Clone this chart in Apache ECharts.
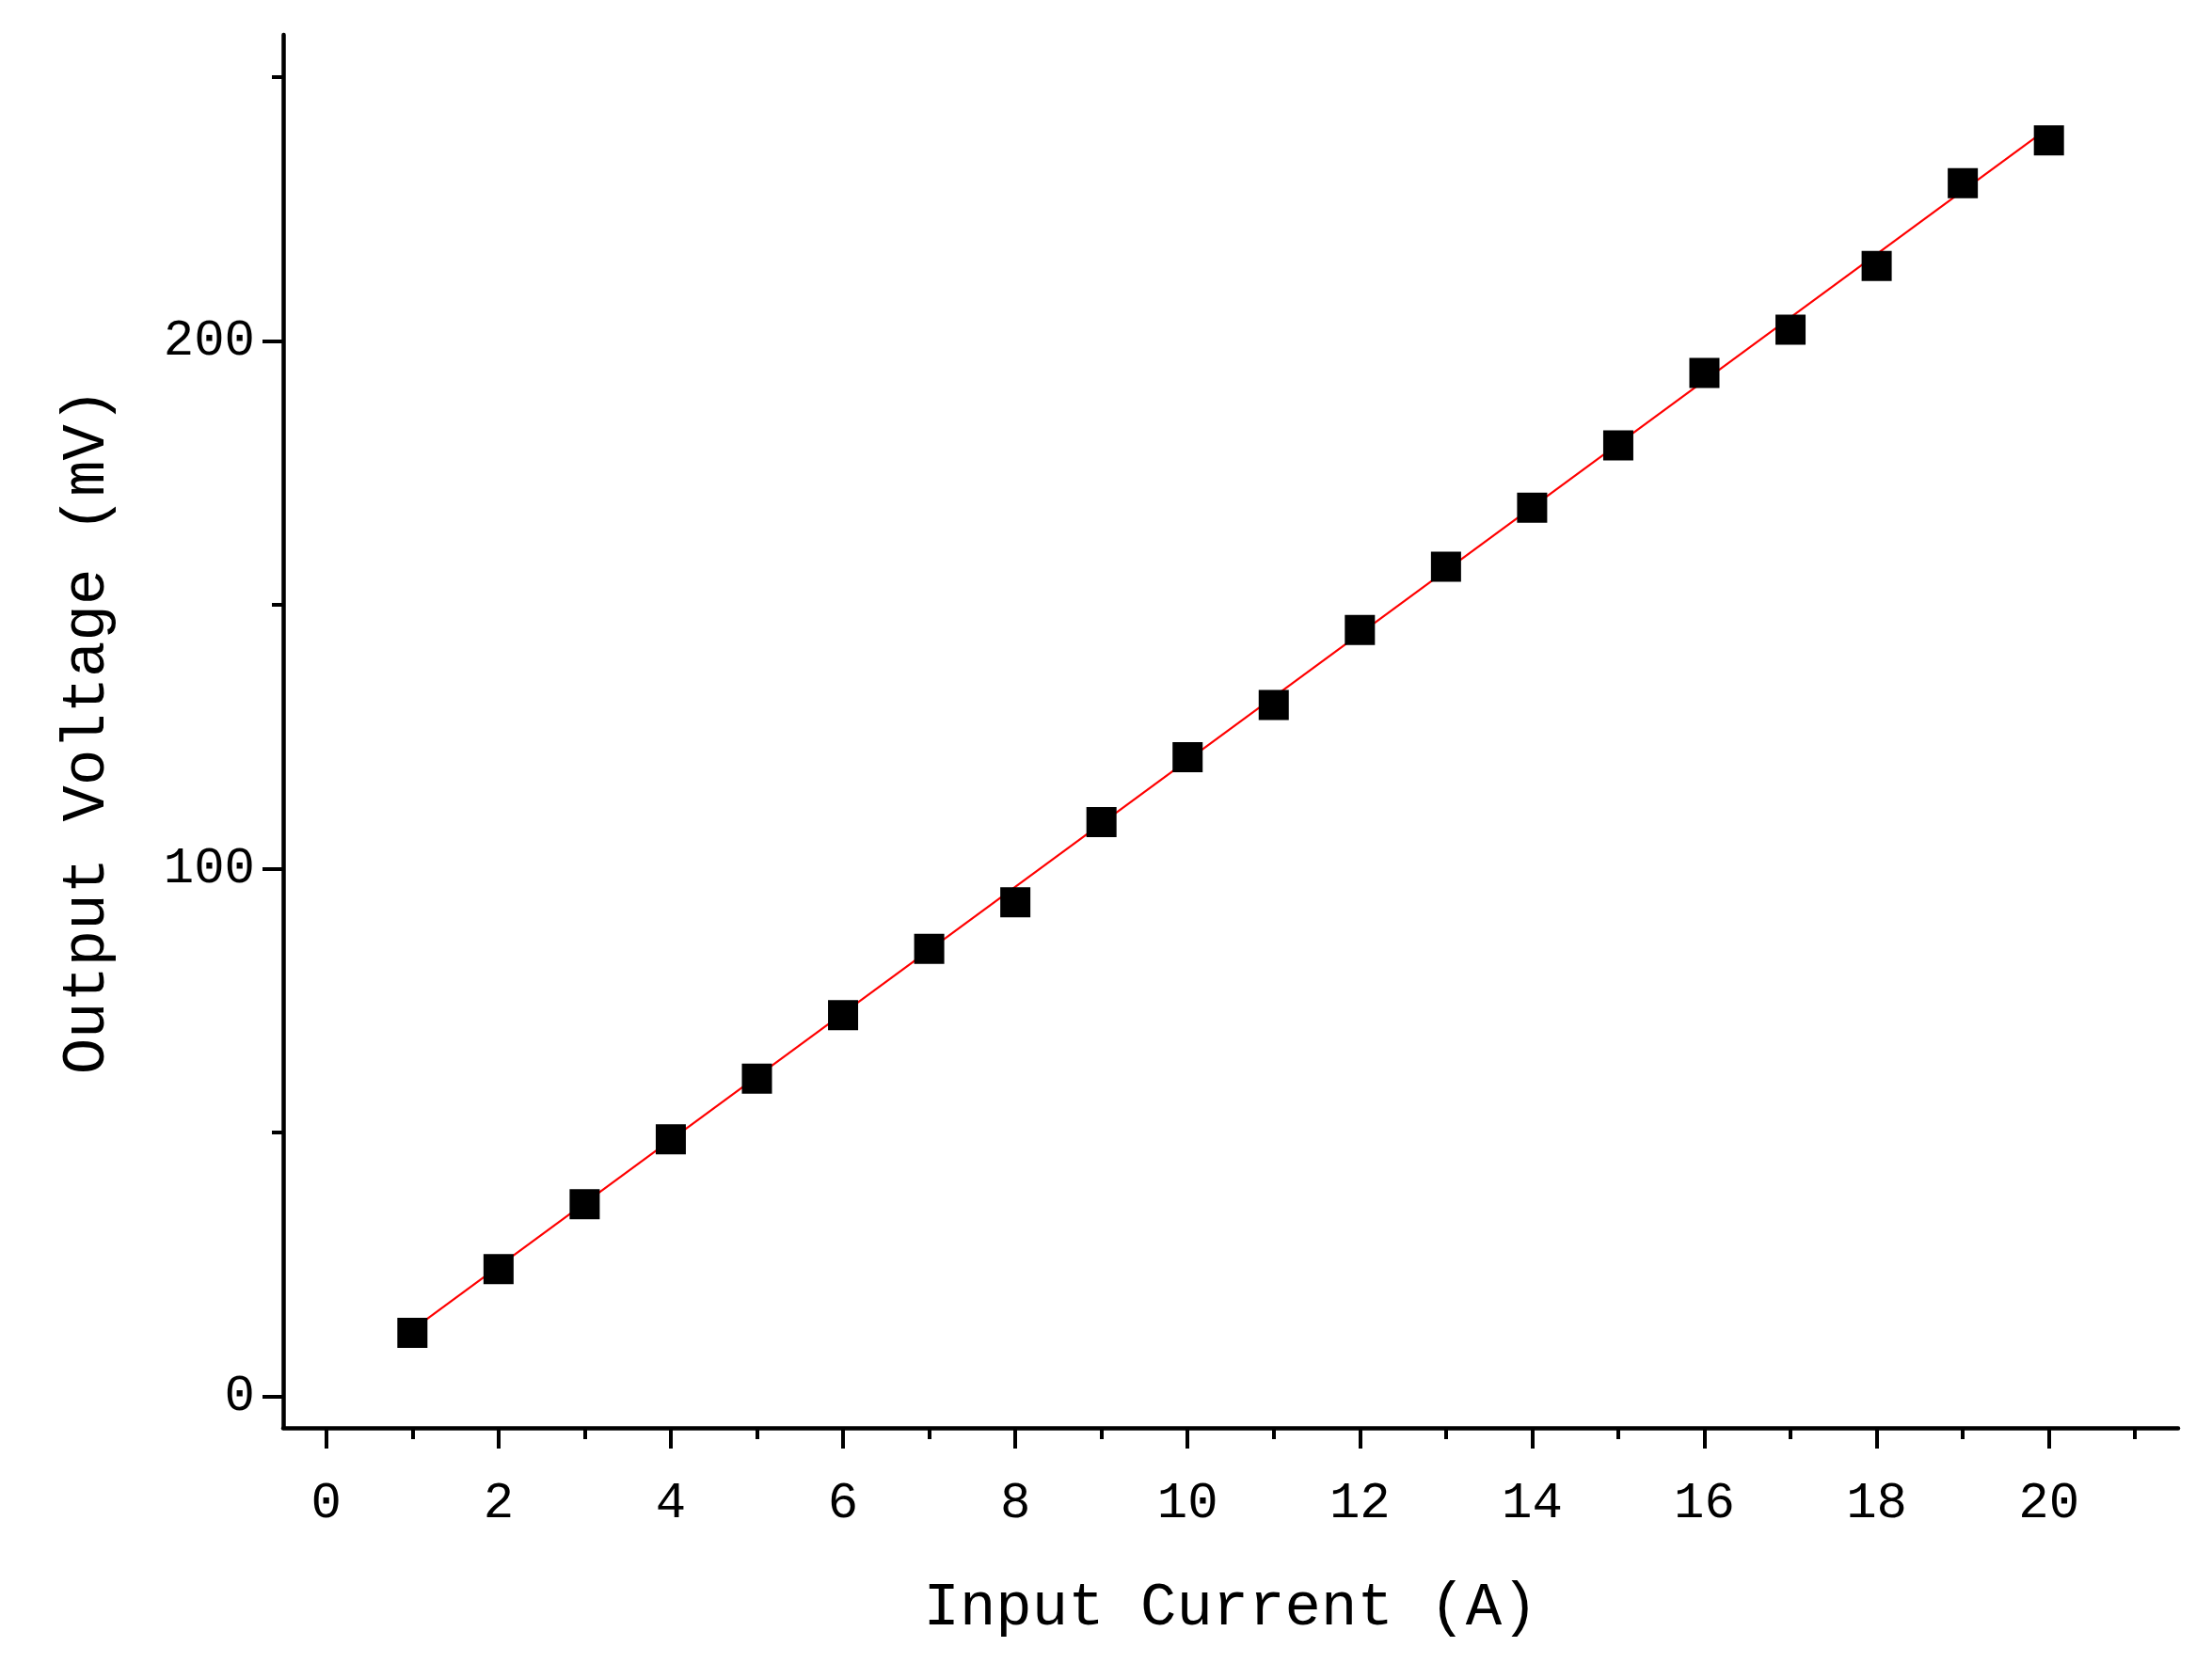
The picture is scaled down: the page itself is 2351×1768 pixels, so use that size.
<!DOCTYPE html>
<html><head><meta charset="utf-8">
<script src="https://cdn.jsdelivr.net/npm/echarts@6/dist/echarts.min.js"></script>
<style>html,body{margin:0;background:#fff}#c{width:2351px;height:1768px}</style>
</head><body><div id="c"></div>
<script>
var current = [1,2,3,4,5,6,7,8,9,10,11,12,13,14,15,16,17,18,19,20];
var voltage = [12.0,24.1,36.4,48.7,60.2,72.2,84.8,93.6,108.8,121.1,131.0,145.2,157.2,168.4,180.2,193.9,202.1,214.2,229.9,238.0];
var fitLine = [[1,12.6],[20,240.4]];
var xLabels = [0,2,4,6,8,10,12,14,16,18,20];
var xMinor = [1,3,5,7,9,11,13,15,17,19,21];
var yLabels = [0,100,200];
var yMinor = [50,150,250];

var font = 'Liberation Mono';
var chart = echarts.init(document.getElementById('c'));
var lineStyle = {color:'#000', width:4.5};
function xAxis(major, ticks, len, show) {
  return {type:'value', min:-0.5, max:21.5, position:'bottom', splitLine:{show:false},
    axisLine:{show:major, onZero:false, lineStyle:lineStyle},
    axisTick:{show:true, customValues:ticks, length:len, inside:false, lineStyle:{color:'#000', width:4}},
    axisLabel:{show:show, customValues:xLabels, margin:54, fontFamily:font, fontSize:54, color:'#000'},
    name: major ? 'Input Current (A)' : '', nameLocation:'middle', nameGap:160,
    nameTextStyle:{fontFamily:font, fontSize:64, color:'#000'}};
}
function yAxis(major, ticks, len, show) {
  return {type:'value', min:-6, max:258, position:'left', splitLine:{show:false},
    axisLine:{show:major, onZero:false, lineStyle:lineStyle},
    axisTick:{show:true, customValues:ticks, length:len, lineStyle:{color:'#000', width:4}},
    axisLabel:{show:show, customValues:yLabels, margin:30, fontFamily:font, fontSize:54, color:'#000'},
    name: major ? 'Output Voltage (mV)' : '', nameLocation:'middle', nameGap:176,
    nameTextStyle:{fontFamily:font, fontSize:64, color:'#000'}};
}
chart.setOption({
  animation:false,
  grid:{left:301, top:37, right:36, bottom:250},
  xAxis:[xAxis(true, xLabels, 22, true), xAxis(false, xMinor, 12, false)],
  yAxis:[yAxis(true, yLabels, 22, true), yAxis(false, yMinor, 12, false)],
  series:[
    {type:'line', data:fitLine, showSymbol:false, lineStyle:{color:'#ff0000', width:2.2}, z:1},
    {type:'scatter', data:current.map(function(x,i){return [x, voltage[i]];}),
     symbol:'rect', symbolSize:32, itemStyle:{color:'#000', opacity:1}, z:2}
  ]
});
</script></body></html>
